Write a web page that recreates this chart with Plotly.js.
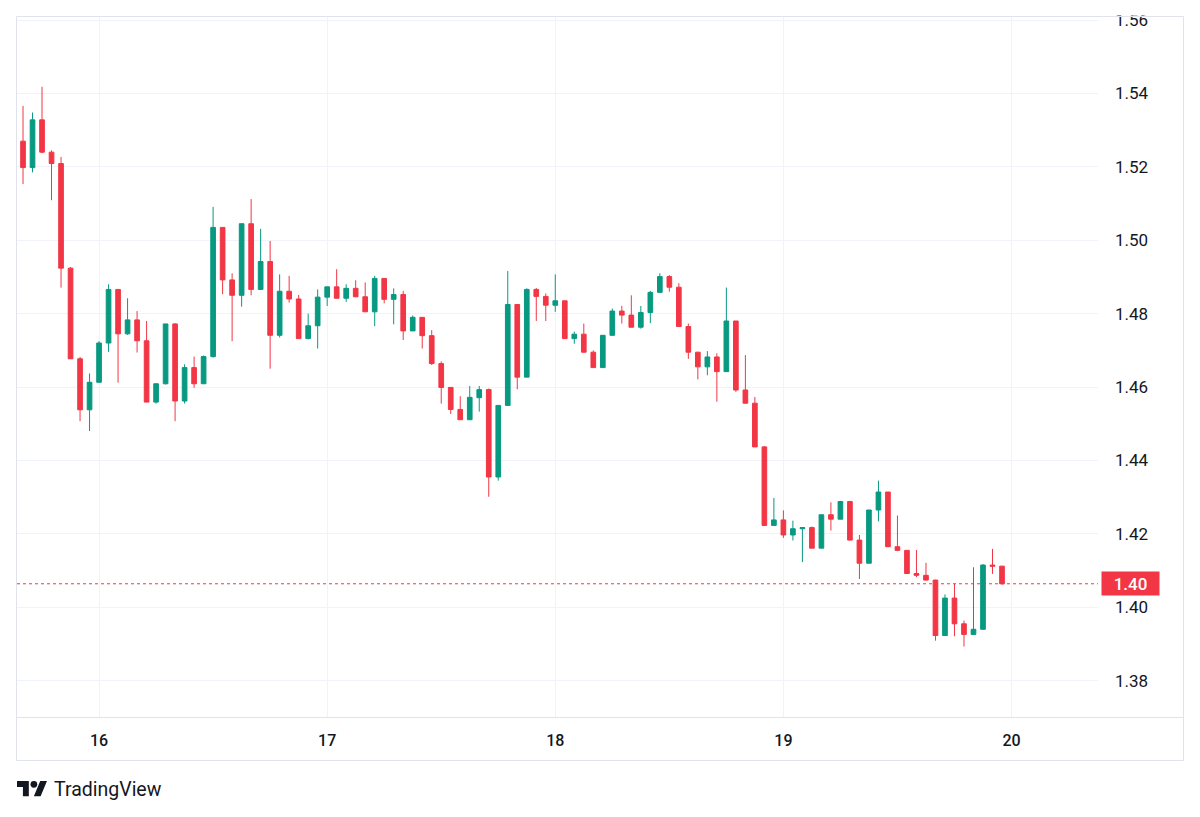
<!DOCTYPE html>
<html>
<head>
<meta charset="utf-8">
<script src="https://cdn.plot.ly/plotly-3.0.1.min.js"></script>
<style>
  html, body { margin: 0; padding: 0; background: #ffffff; }
  #chart { width: 1200px; height: 817px; }
</style>
</head>
<body>
<div id="chart"></div>
<script>
// Hourly OHLC candles, first bar opens at 15th 16:00
const firstBar = Date.UTC(2024, 7, 15, 16, 0);

const opens = [
  1.5270, 1.5198, 1.5328, 1.5240, 1.5209, 1.4924, 1.4677, 1.4538, 1.4613, 1.4720,
  1.4866, 1.4745, 1.4783, 1.4726, 1.4559, 1.4609, 1.4772, 1.4562, 1.4653, 1.4609,
  1.4683, 1.5035, 1.4892, 1.4850, 1.5045, 1.4866, 1.4942, 1.4741, 1.4861, 1.4840,
  1.4732, 1.4767, 1.4845, 1.4873, 1.4842, 1.4869, 1.4846, 1.4805, 1.4896, 1.4839,
  1.4852, 1.4753, 1.4790, 1.4740, 1.4664, 1.4599, 1.4539, 1.4511, 1.4571, 1.4593,
  1.4355, 1.4550, 1.4825, 1.4627, 1.4866, 1.4847, 1.4823, 1.4835, 1.4732, 1.4744,
  1.4695, 1.4653, 1.4741, 1.4807, 1.4796, 1.4763, 1.4803, 1.4858, 1.4901, 1.4872,
  1.4765, 1.4695, 1.4655, 1.4682, 1.4642, 1.4780, 1.4592, 1.4556, 1.4437, 1.4223,
  1.4238, 1.4197, 1.4214, 1.4217, 1.4161, 1.4252, 1.4240, 1.4288, 1.4183, 1.4120,
  1.4265, 1.4314, 1.4165, 1.4155, 1.4092, 1.4087, 1.4074, 1.3923, 1.4025, 1.3955,
  1.3926, 1.3940, 1.4115, 1.4112
];
const highs = [
  1.5366, 1.5348, 1.5418, 1.5245, 1.5227, 1.4927, 1.4682, 1.4637, 1.4725, 1.4880,
  1.4866, 1.4842, 1.4807, 1.4780, 1.4610, 1.4772, 1.4774, 1.4662, 1.4683, 1.4686,
  1.5091, 1.5035, 1.4910, 1.5045, 1.5112, 1.5031, 1.4998, 1.4907, 1.4903, 1.4851,
  1.4800, 1.4866, 1.4873, 1.4921, 1.4880, 1.4891, 1.4885, 1.4903, 1.4896, 1.4869,
  1.4862, 1.4795, 1.4790, 1.4755, 1.4670, 1.4600, 1.4575, 1.4603, 1.4603, 1.4596,
  1.4550, 1.4916, 1.4825, 1.4869, 1.4870, 1.4855, 1.4907, 1.4835, 1.4751, 1.4773,
  1.4700, 1.4742, 1.4814, 1.4821, 1.4850, 1.4821, 1.4862, 1.4910, 1.4905, 1.4883,
  1.4773, 1.4696, 1.4698, 1.4692, 1.4871, 1.4780, 1.4687, 1.4573, 1.4439, 1.4298,
  1.4264, 1.4236, 1.4218, 1.4220, 1.4252, 1.4286, 1.4290, 1.4290, 1.4197, 1.4265,
  1.4345, 1.4314, 1.4250, 1.4156, 1.4156, 1.4121, 1.4075, 1.4035, 1.4064, 1.3964,
  1.4109, 1.4118, 1.4159, 1.4113
];
const lows = [
  1.5153, 1.5185, 1.5237, 1.5109, 1.4871, 1.4677, 1.4507, 1.4480, 1.4613, 1.4696,
  1.4612, 1.4742, 1.4694, 1.4559, 1.4555, 1.4607, 1.4507, 1.4555, 1.4598, 1.4609,
  1.4680, 1.4853, 1.4725, 1.4819, 1.4850, 1.4866, 1.4650, 1.4735, 1.4830, 1.4732,
  1.4730, 1.4705, 1.4821, 1.4842, 1.4832, 1.4845, 1.4805, 1.4766, 1.4828, 1.4771,
  1.4728, 1.4753, 1.4705, 1.4660, 1.4555, 1.4527, 1.4511, 1.4511, 1.4533, 1.4301,
  1.4345, 1.4550, 1.4594, 1.4627, 1.4780, 1.4780, 1.4805, 1.4732, 1.4718, 1.4694,
  1.4653, 1.4653, 1.4740, 1.4773, 1.4763, 1.4759, 1.4774, 1.4857, 1.4860, 1.4764,
  1.4677, 1.4621, 1.4632, 1.4560, 1.4642, 1.4587, 1.4555, 1.4436, 1.4223, 1.4222,
  1.4189, 1.4182, 1.4123, 1.4161, 1.4161, 1.4209, 1.4240, 1.4182, 1.4077, 1.4120,
  1.4234, 1.4164, 1.4153, 1.4091, 1.4082, 1.4073, 1.3909, 1.3923, 1.3921, 1.3893,
  1.3925, 1.3939, 1.4091, 1.4062
];
const closes = [
  1.5198, 1.5328, 1.5240, 1.5209, 1.4924, 1.4677, 1.4538, 1.4613, 1.4720, 1.4866,
  1.4745, 1.4783, 1.4726, 1.4559, 1.4609, 1.4772, 1.4562, 1.4653, 1.4609, 1.4683,
  1.5035, 1.4892, 1.4850, 1.5045, 1.4866, 1.4942, 1.4741, 1.4861, 1.4840, 1.4732,
  1.4767, 1.4845, 1.4873, 1.4842, 1.4869, 1.4846, 1.4805, 1.4896, 1.4839, 1.4852,
  1.4753, 1.4790, 1.4740, 1.4664, 1.4599, 1.4539, 1.4511, 1.4572, 1.4593, 1.4355,
  1.4550, 1.4825, 1.4627, 1.4866, 1.4847, 1.4823, 1.4835, 1.4732, 1.4744, 1.4695,
  1.4653, 1.4741, 1.4807, 1.4796, 1.4763, 1.4803, 1.4858, 1.4901, 1.4872, 1.4765,
  1.4695, 1.4655, 1.4682, 1.4642, 1.4780, 1.4592, 1.4556, 1.4437, 1.4223, 1.4238,
  1.4197, 1.4214, 1.4217, 1.4161, 1.4252, 1.4240, 1.4288, 1.4183, 1.4120, 1.4265,
  1.4314, 1.4165, 1.4155, 1.4092, 1.4087, 1.4074, 1.3923, 1.4025, 1.3955, 1.3926,
  1.3940, 1.4115, 1.4112, 1.4064
];

const dayTicks  = ['2024-08-16', '2024-08-17', '2024-08-18', '2024-08-19', '2024-08-20'];
const dayLabels = ['16', '17', '18', '19', '20'];
const priceTicks = [1.38, 1.40, 1.42, 1.44, 1.46, 1.48, 1.50, 1.52, 1.54, 1.56];

// bar timestamps, one per hour
function fmt(ms) {
  return new Date(ms).toISOString().slice(0, 16).replace('T', ' ');
}
const times = opens.map((_, i) => fmt(firstBar + i * 3600000));

const UP = '#089981';
const DOWN = '#F23645';
const TEXT = '#131722';
const BORDER = '#e0e3eb';
const GRID = '#f0f3fa';

// frame geometry (px) -> paper coordinates
const W = 1200, H = 817;
const M = { l: 17, r: 102, t: 16, b: 100 };
const PW = W - M.l - M.r, PH = H - M.t - M.b;
const px = v => (v - M.l) / PW;
const py = v => (H - M.b - v) / PH;

const lastClose = closes[closes.length - 1];
const lastLabel = (Math.floor(lastClose * 100) / 100).toFixed(2);

const logoSvg = '<svg xmlns="http://www.w3.org/2000/svg" width="36" height="28" viewBox="0 0 36 28">' +
  '<path fill="' + TEXT + '" d="M14 22H7V11H0V4h14v18zM28 22h-8l7.5-18h8L28 22z"/>' +
  '<circle fill="' + TEXT + '" cx="20" cy="8" r="4"/></svg>';

const trace = {
  type: 'candlestick',
  x: times,
  open: opens,
  high: highs,
  low: lows,
  close: closes,
  increasing: { line: { color: UP, width: 1 }, fillcolor: UP },
  decreasing: { line: { color: DOWN, width: 1 }, fillcolor: DOWN },
  whiskerwidth: 0,
  hoverinfo: 'skip',
  showlegend: false
};

const layout = {
  width: W,
  height: H,
  margin: M,
  paper_bgcolor: '#ffffff',
  plot_bgcolor: '#ffffff',
  showlegend: false,
  boxgap: 0.3,
  font: { family: 'Roboto, "Open Sans", sans-serif', color: TEXT },
  xaxis: {
    type: 'date',
    range: ['2024-08-15 15:22', '2024-08-20 09:06'],
    tickvals: dayTicks,
    ticktext: dayLabels,
    showgrid: true,
    gridcolor: GRID,
    gridwidth: 1,
    zeroline: false,
    showline: false,
    ticks: '',
    ticklabelstandoff: 12,
    tickfont: { family: 'Roboto, sans-serif', size: 16, color: TEXT, weight: 500 },
    rangeslider: { visible: false },
    fixedrange: true
  },
  yaxis: {
    side: 'right',
    range: [1.3701, 1.5611],
    tickvals: priceTicks,
    tickformat: '.2f',
    showgrid: true,
    gridcolor: GRID,
    gridwidth: 1,
    zeroline: false,
    showline: false,
    ticks: '',
    ticklabelstandoff: 16,
    tickfont: { family: 'Roboto, sans-serif', size: 17, color: TEXT },
    fixedrange: true
  },
  shapes: [
    // white band above the frame so the top price label is cut at the border
    { type: 'rect', xref: 'paper', yref: 'paper', layer: 'above',
      x0: px(1098), x1: px(1200), y0: py(15.5), y1: py(0),
      fillcolor: '#ffffff', line: { width: 0 } },
    // outer frame
    { type: 'rect', xref: 'paper', yref: 'paper', layer: 'above',
      x0: px(16.5), x1: px(1183.5), y0: py(760.5), y1: py(16.5),
      line: { color: BORDER, width: 1 } },
    // separator between plot and time scale
    { type: 'line', xref: 'paper', yref: 'paper', layer: 'above',
      x0: px(16.5), x1: px(1183.5), y0: py(717.5), y1: py(717.5),
      line: { color: BORDER, width: 1 } },
    // last price line
    { type: 'line', xref: 'paper', yref: 'y', layer: 'above',
      x0: 0, x1: 1, y0: lastClose, y1: lastClose,
      line: { color: DOWN, width: 1, dash: 'dot' } }
  ],
  annotations: [
    { xref: 'paper', yref: 'y', x: px(1101), y: lastClose,
      xanchor: 'left', yanchor: 'middle', showarrow: false,
      text: lastLabel, bgcolor: DOWN, borderpad: 3, width: 51, height: 17,
      font: { family: 'Roboto, sans-serif', size: 17, color: '#ffffff', weight: 500 } },
    { xref: 'paper', yref: 'paper', x: px(52), y: py(789),
      xanchor: 'left', yanchor: 'middle', showarrow: false,
      text: 'TradingView',
      font: { family: 'Roboto, sans-serif', size: 19.5, color: TEXT } }
  ],
  images: [
    { source: 'data:image/svg+xml;charset=utf-8,' + encodeURIComponent(logoSvg),
      xref: 'paper', yref: 'paper', x: px(17), y: py(777.6),
      sizex: 30.4 / PW, sizey: 23.7 / PH, sizing: 'stretch',
      xanchor: 'left', yanchor: 'top', layer: 'above' }
  ]
};

Plotly.newPlot('chart', [trace], layout, { staticPlot: true, displayModeBar: false });
</script>
</body>
</html>
